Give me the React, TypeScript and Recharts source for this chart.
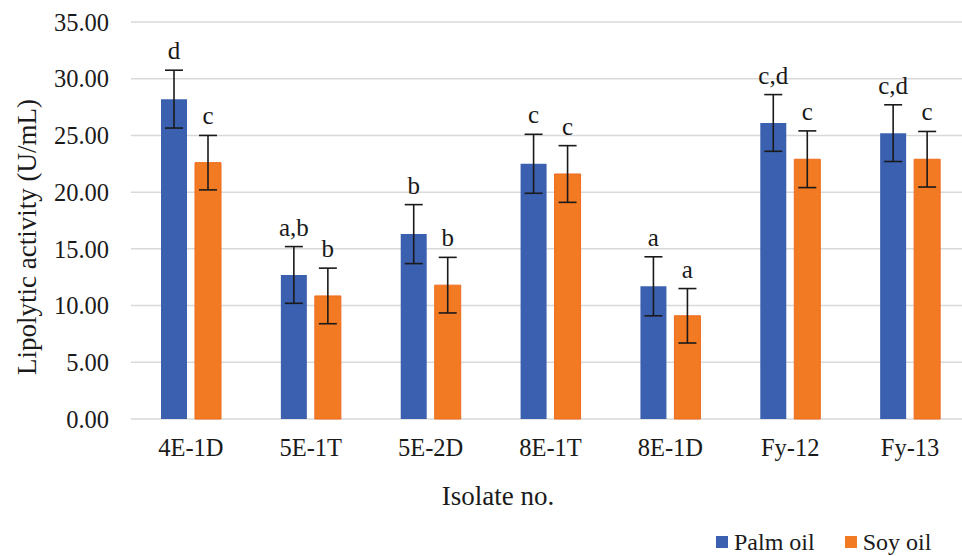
import React from 'react';
import { BarChart, Bar, XAxis, YAxis, CartesianGrid, ErrorBar, LabelList } from 'recharts';

const categories = ['4E-1D', '5E-1T', '5E-2D', '8E-1T', '8E-1D', 'Fy-12', 'Fy-13'];
const palmOil = [28.2, 12.7, 16.3, 22.5, 11.7, 26.1, 25.2];
const palmErr = [2.55, 2.5, 2.6, 2.6, 2.6, 2.5, 2.5];
const soyOil = [22.6, 10.85, 11.8, 21.6, 9.1, 22.9, 22.9];
const soyErr = [2.4, 2.45, 2.45, 2.5, 2.4, 2.5, 2.45];
const palmLetters = ['d', 'a,b', 'b', 'c', 'a', 'c,d', 'c,d'];
const soyLetters = ['c', 'b', 'b', 'c', 'a', 'c', 'c'];
const yTicks = [0, 5, 10, 15, 20, 25, 30, 35];

const PALM = '#3C60B0';
const SOY = '#F27A22';
const FONT = 'Liberation Serif, Times New Roman, serif';

const rows = categories.map((name, i) => ({
  name,
  palm: palmOil[i],
  palmErr: palmErr[i],
  palmLabel: palmLetters[i],
  soy: soyOil[i],
  soyErr: soyErr[i],
  soyLabel: soyLetters[i],
}));

// letra encima de la barra de error
const letterContent = (valueKey: 'palm' | 'soy', errKey: 'palmErr' | 'soyErr') => (props: any) => {
  const { x, y, width, height, value, index } = props;
  const row = rows[index];
  if (!row) return null;
  const ppu = Number(height) / row[valueKey];
  const errTop = Number(y) - row[errKey] * ppu;
  return (
    <text
      x={Number(x) + Number(width) / 2}
      y={errTop - 11}
      textAnchor="middle"
      fill="#1a1a1a"
      fontSize={25}
      fontFamily={FONT}
    >
      {value}
    </text>
  );
};

const legendItems = [
  { name: 'Palm oil', color: PALM },
  { name: 'Soy oil', color: SOY },
];

export default function App() {
  return (
    <div style={{ position: 'absolute', left: 0, top: 0, width: 962, height: 556, overflow: 'hidden', background: '#fff' }}>
      <BarChart
        width={970}
        height={556}
        data={rows}
        margin={{ top: 22, right: 0, left: 0, bottom: 0 }}
        barSize={26}
        barGap={8}
      >
        <CartesianGrid vertical={false} stroke="#d9d9d9" strokeWidth={1.5} />
        <XAxis
          dataKey="name"
          axisLine={false}
          tickLine={false}
          tickSize={0}
          tickMargin={20}
          height={137}
          interval={0}
          tick={{ fill: '#1a1a1a', fontSize: 24.5, fontFamily: FONT }}
          label={{
            content: () => (
              <text x={498} y={505} textAnchor="middle" fill="#1a1a1a" fontSize={27} fontFamily={FONT}>
                Isolate no.
              </text>
            ),
          }}
        />
        <YAxis
          domain={[0, 35]}
          ticks={yTicks}
          width={131}
          axisLine={false}
          tickLine={false}
          tickSize={0}
          tickMargin={22}
          tickFormatter={(v: number) => v.toFixed(2)}
          tick={{ fill: '#1a1a1a', fontSize: 24.5, fontFamily: FONT }}
          label={{
            content: () => (
              <text
                x={36}
                y={237}
                transform="rotate(-90 36 237)"
                textAnchor="middle"
                fill="#1a1a1a"
                fontSize={27}
                fontFamily={FONT}
              >
                Lipolytic activity (U/mL)
              </text>
            ),
          }}
        />
        <Bar dataKey="palm" fill={PALM} isAnimationActive={false}>
          <ErrorBar dataKey="palmErr" width={9} stroke="#1a1a1a" strokeWidth={1.6} />
          <LabelList dataKey="palmLabel" content={letterContent('palm', 'palmErr')} />
        </Bar>
        <Bar dataKey="soy" fill={SOY} stroke="#EE6C1E" strokeWidth={1} isAnimationActive={false}>
          <ErrorBar dataKey="soyErr" width={9} stroke="#1a1a1a" strokeWidth={1.6} />
          <LabelList dataKey="soyLabel" content={letterContent('soy', 'soyErr')} />
        </Bar>
      </BarChart>
      <div
        style={{
          position: 'absolute',
          left: 716,
          top: 528,
          display: 'flex',
          alignItems: 'center',
          fontFamily: FONT,
          fontSize: 24,
          color: '#1a1a1a',
          lineHeight: '28px',
        }}
      >
        {legendItems.map((it) => (
          <div key={it.name} style={{ display: 'flex', alignItems: 'center', marginRight: 30 }}>
            <span style={{ display: 'inline-block', width: 12, height: 12, background: it.color, marginRight: 6 }} />
            <span>{it.name}</span>
          </div>
        ))}
      </div>
    </div>
  );
}
